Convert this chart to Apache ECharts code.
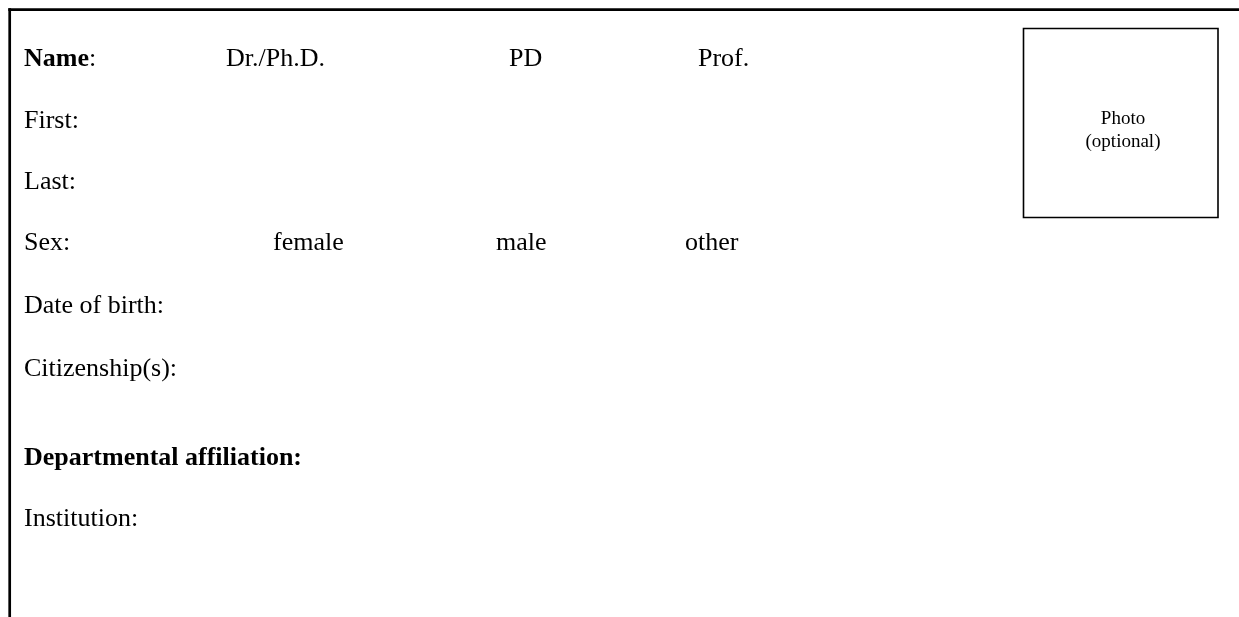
<!DOCTYPE html>
<html>
<head>
<meta charset="utf-8">
<script src="https://cdn.jsdelivr.net/npm/echarts@6/dist/echarts.min.js"></script>
<style>
html,body{margin:0;padding:0;background:#fff;}
#main{width:1239px;height:617px;}
</style>
</head>
<body>
<div id="main"></div>
<script>
// Form content
var rowLabels = ['Name', 'First:', 'Last:', 'Sex:', 'Date of birth:', 'Citizenship(s):', 'Departmental affiliation:', 'Institution:'];
var titleOptions = ['Dr./Ph.D.', 'PD', 'Prof.'];
var sexOptions = ['female', 'male', 'other'];
var photoText = ['Photo', '(optional)'];

// layout
var rowBaselines = [68, 130, 191, 252, 315, 378, 467, 528];
var titleX = [226, 509, 698];
var sexX = [273, 496, 685];
var FONT = '"Liberation Serif", "Times New Roman", serif';
var FS = 26;
var BASE_OFF = 9; // baseline offset from middle

var chart = echarts.init(document.getElementById('main'), null, {renderer: 'canvas'});

function txt(x, baseline, text, opts) {
  opts = opts || {};
  return {
    type: 'text',
    x: x,
    y: baseline - BASE_OFF,
    style: {
      text: text,
      fill: '#000',
      font: (opts.bold ? 'bold ' : '') + FS + 'px ' + FONT,
      fontFamily: FONT,
      fontSize: FS,
      fontWeight: opts.bold ? 'bold' : 'normal',
      align: opts.align || 'left',
      verticalAlign: 'middle',
      rich: opts.rich
    }
  };
}

var els = [];
// frame lines
els.push({type: 'line', shape: {x1: 8.3, y1: 9.7, x2: 1239, y2: 9.7}, style: {stroke: '#000', lineWidth: 2.7}});
els.push({type: 'line', shape: {x1: 9.7, y1: 8.3, x2: 9.7, y2: 617}, style: {stroke: '#000', lineWidth: 2.7}});
// photo box
els.push({type: 'rect', shape: {x: 1023.5, y: 28.5, width: 194.5, height: 189}, style: {fill: 'none', stroke: '#000', lineWidth: 1.6}});

rowLabels.forEach(function (lab, i) {
  if (i === 0) {
    els.push({
      type: 'text', x: 24, y: rowBaselines[i] - BASE_OFF,
      style: {
        text: '{b|' + lab + '}:',
        fill: '#000', fontFamily: FONT, fontSize: FS, verticalAlign: 'middle',
        rich: {b: {fontFamily: FONT, fontSize: FS, fontWeight: 'bold', fill: '#000'}}
      }
    });
  } else {
    els.push({
      type: 'text', x: 24, y: rowBaselines[i] - BASE_OFF,
      style: {text: lab, fill: '#000', fontFamily: FONT, fontSize: FS, fontWeight: (i === 6 ? 'bold' : 'normal'), verticalAlign: 'middle'}
    });
  }
});
titleOptions.forEach(function (t, i) {
  els.push({type: 'text', x: titleX[i], y: rowBaselines[0] - BASE_OFF,
    style: {text: t, fill: '#000', fontFamily: FONT, fontSize: FS, verticalAlign: 'middle'}});
});
sexOptions.forEach(function (t, i) {
  els.push({type: 'text', x: sexX[i], y: rowBaselines[3] - BASE_OFF,
    style: {text: t, fill: '#000', fontFamily: FONT, fontSize: FS, verticalAlign: 'middle'}});
});
photoText.forEach(function (t, i) {
  els.push({type: 'text', x: 1123, y: 119 + i * 23,
    style: {text: t, fill: '#000', fontFamily: FONT, fontSize: 19, align: 'center', verticalAlign: 'middle'}});
});

chart.setOption({
  backgroundColor: '#fff',
  animation: false,
  graphic: {elements: els}
});
</script>
</body>
</html>
